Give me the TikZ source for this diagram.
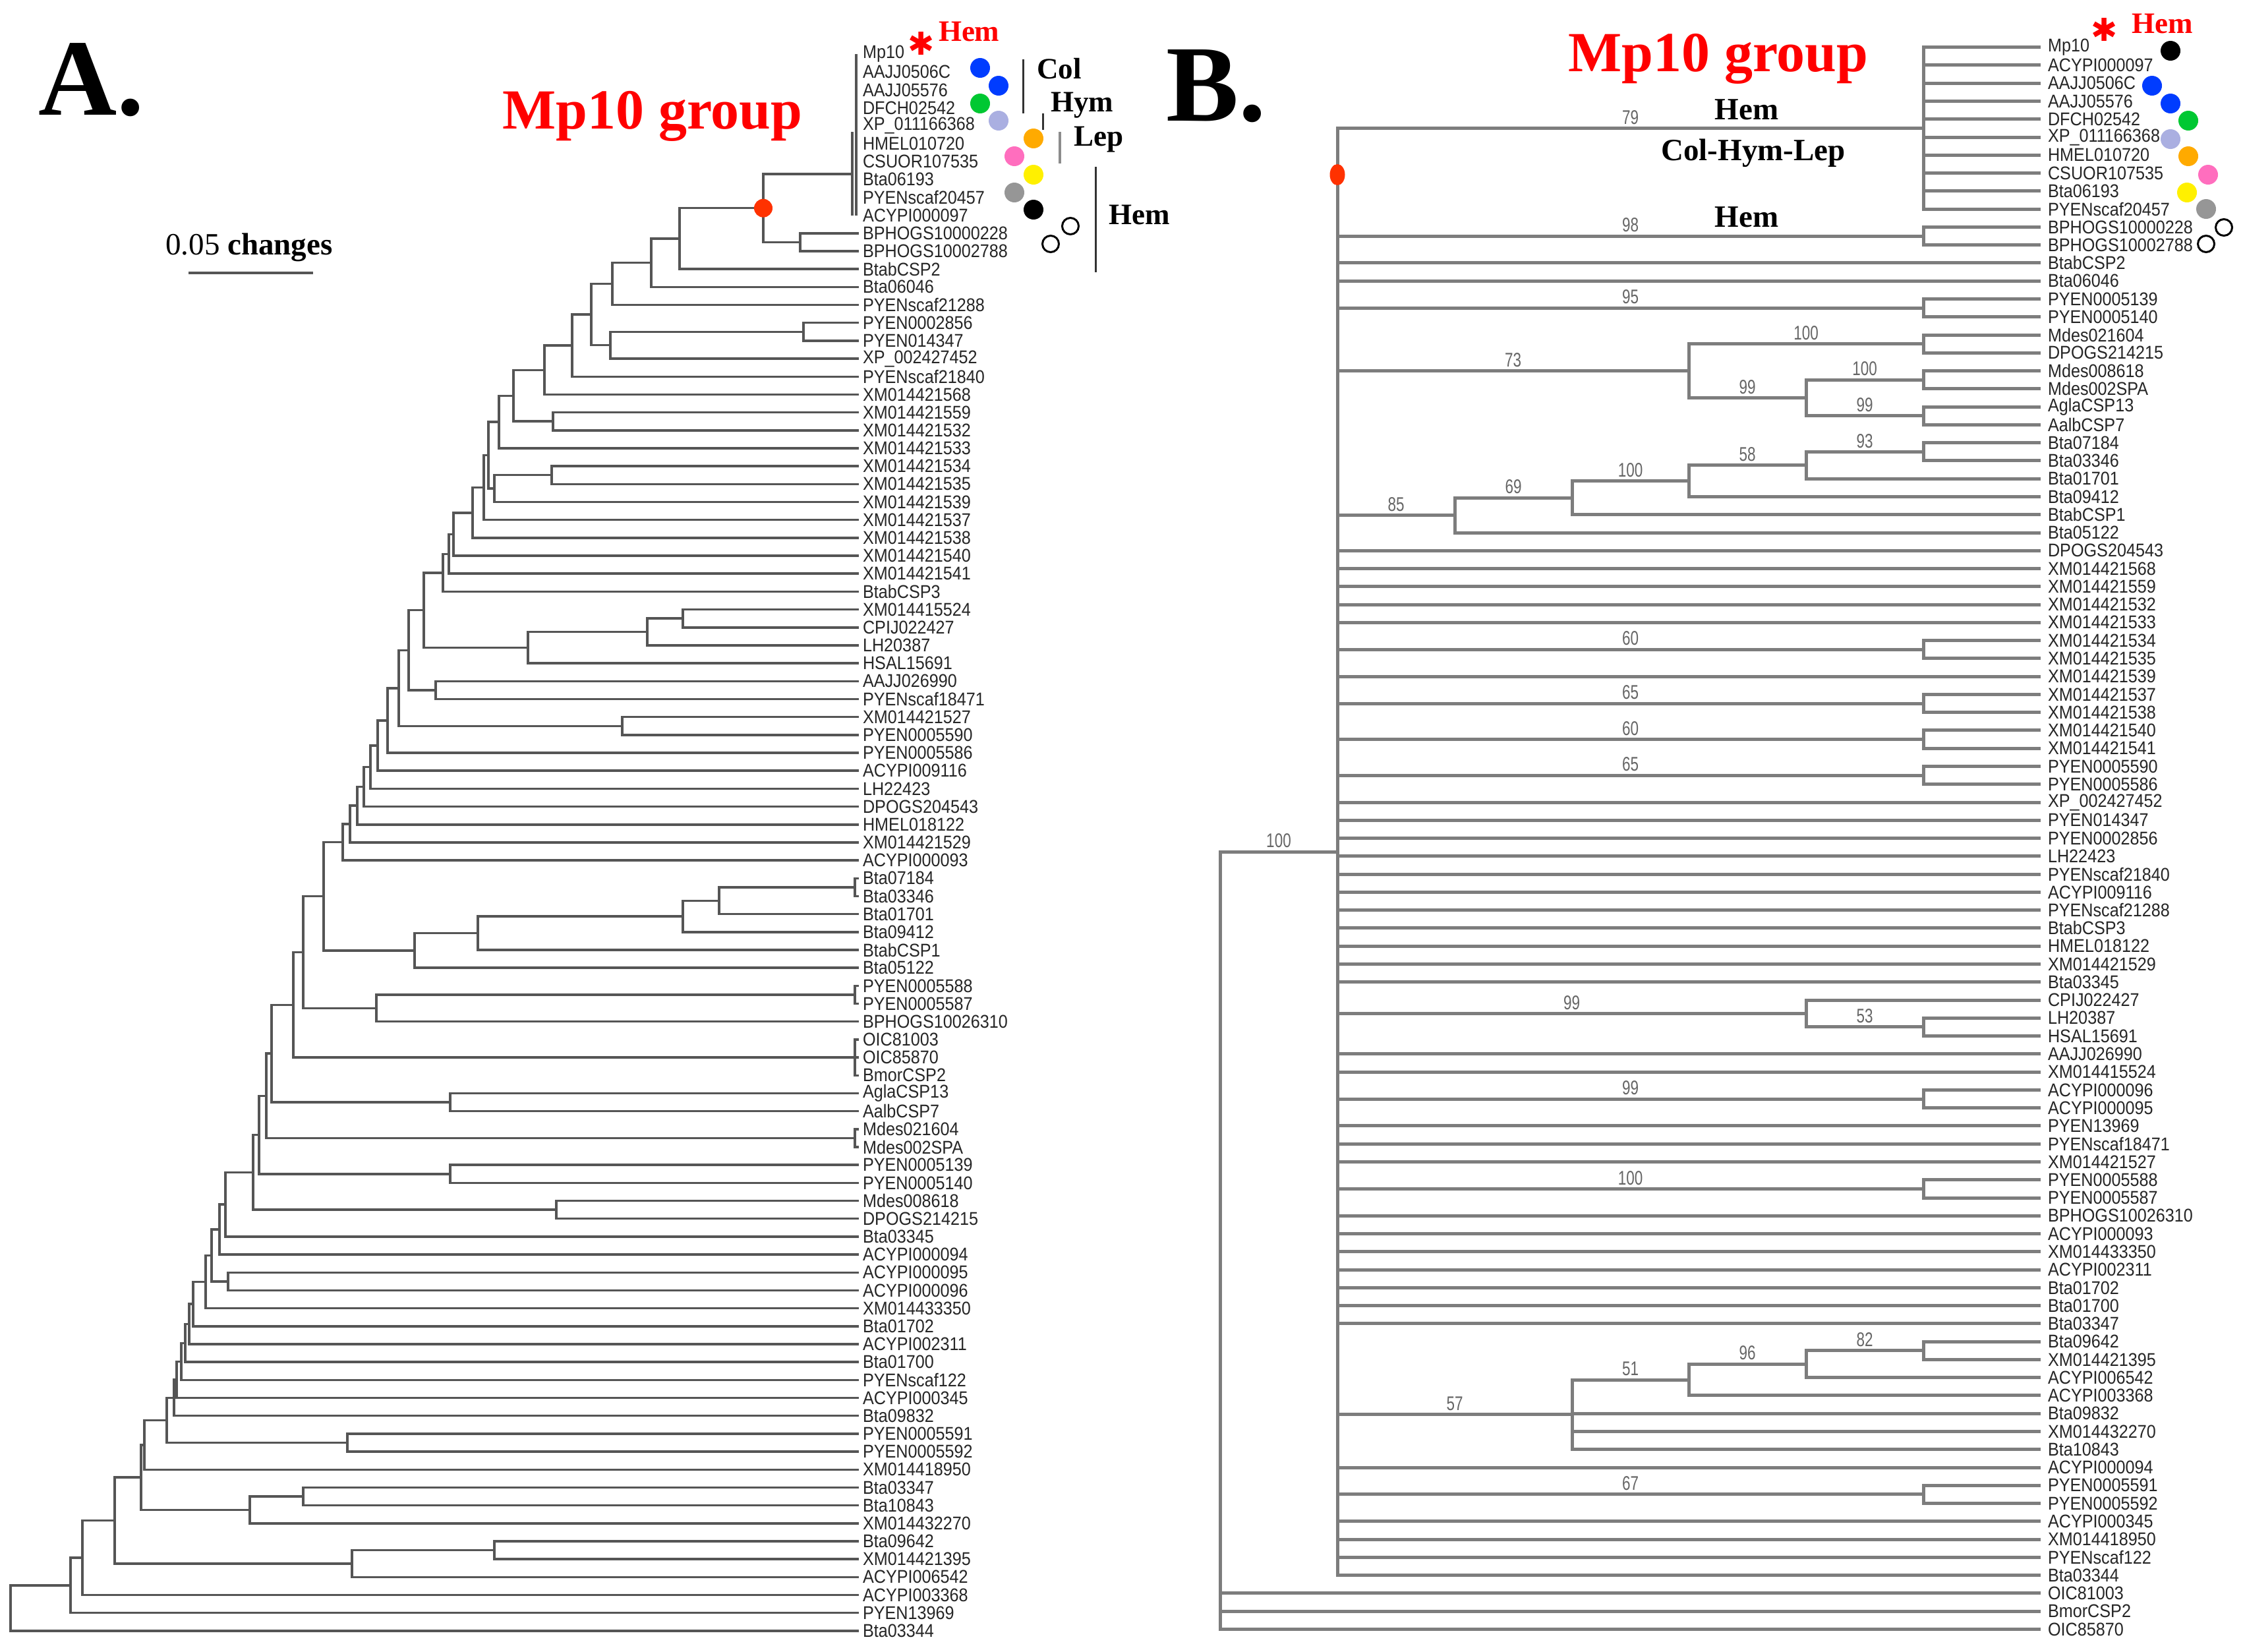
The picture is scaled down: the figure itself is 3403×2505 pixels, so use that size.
\documentclass[tikz,border=0pt]{standalone}
\usepackage{fontspec}
\setmainfont{Liberation Serif}
\newfontfamily\leaffont[FakeStretch=0.9]{Liberation Sans}
\newfontfamily\supfont[FakeStretch=0.75]{Liberation Sans}
\newfontfamily\symfont{DejaVu Sans}
\usetikzlibrary{calc,shapes.geometric}
\definecolor{cblue}{RGB}{0,60,255}
\definecolor{cgreen}{RGB}{0,200,50}
\definecolor{clav}{RGB}{170,175,225}
\definecolor{corange}{RGB}{255,170,0}
\definecolor{cpink}{RGB}{255,110,190}
\definecolor{cyellow}{RGB}{255,240,0}
\definecolor{cgray}{RGB}{150,150,150}
\definecolor{cred}{RGB}{255,0,0}
\definecolor{cdot}{RGB}{255,50,0}
\definecolor{brBcol}{RGB}{125,125,125}
\definecolor{brAcol}{RGB}{85,85,85}
\newcommand\trnode[4]{%
  \path let \p1=(#3), \p2=(#4) in ({#2*0.1pt},{(\y1+\y2)*0.5}) coordinate (#1);
  \draw[br] (#3) -- (#1 |- #3) -- (#1 |- #4) -- (#4);}
\newcommand\trmid[2]{\draw[br] (#1 |- #2) -- (#2);}
\newcommand\trlab[3]{\path (#1 |- #2) -- (#2) node[sup, midway, above] {#3};}
\newcommand\redast{\symbol{"2731}}
\begin{document}
\begin{tikzpicture}[x=0.1pt,y=-0.1pt,
  brA/.style={draw=brAcol, line width=0.35pt},
  brB/.style={draw=brBcol, line width=0.5pt},
  leaf/.style={anchor=west, inner sep=0pt, text=black!85, font=\leaffont\fontsize{2.8pt}{3pt}\selectfont},
  sup/.style={inner sep=0.4pt, text=black!60, font=\supfont\fontsize{3pt}{3pt}\selectfont},
  lab/.style={inner sep=0pt, font=\bfseries\fontsize{4.5pt}{5pt}\selectfont},
  redlab/.style={inner sep=0pt, text=cred, font=\bfseries\fontsize{4.5pt}{5pt}\selectfont},
  ast/.style={inner sep=0pt, anchor=center, text=cred, font=\symfont\fontsize{4.8pt}{5pt}\selectfont},
  big/.style={inner sep=0pt, anchor=base, font=\bfseries\fontsize{16.5pt}{18pt}\selectfont},
  grp/.style={inner sep=0pt, anchor=base, text=cred, font=\bfseries\fontsize{8.6pt}{9pt}\selectfont},
  dot/.style={circle, inner sep=0pt, minimum size=3pt},
  odot/.style={circle, inner sep=0pt, minimum size=2.5pt, draw=black, line width=0.3pt},
  bar/.style={draw=black!80, line width=0.3pt}]
\useasboundingbox (0,0) rectangle (3403,2505);
\fill[white] (0,0) rectangle (3403,2505);

% ---------------- Panel A ----------------
\foreach \n [count=\i] in {Mp10,AAJJ0506C,AAJJ05576,DFCH02542,XP\_011166368,HMEL010720,CSUOR107535,Bta06193,PYENscaf20457,ACYPI000097,
BPHOGS10000228,BPHOGS10002788,BtabCSP2,Bta06046,PYENscaf21288,PYEN0002856,PYEN014347,XP\_002427452,PYENscaf21840,XM014421568,
XM014421559,XM014421532,XM014421533,XM014421534,XM014421535,XM014421539,XM014421537,XM014421538,XM014421540,XM014421541,
BtabCSP3,XM014415524,CPIJ022427,LH20387,HSAL15691,AAJJ026990,PYENscaf18471,XM014421527,PYEN0005590,PYEN0005586,
ACYPI009116,LH22423,DPOGS204543,HMEL018122,XM014421529,ACYPI000093,Bta07184,Bta03346,Bta01701,Bta09412,
BtabCSP1,Bta05122,PYEN0005588,PYEN0005587,BPHOGS10026310,OIC81003,OIC85870,BmorCSP2,AglaCSP13,AalbCSP7,
Mdes021604,Mdes002SPA,PYEN0005139,PYEN0005140,Mdes008618,DPOGS214215,Bta03345,ACYPI000094,ACYPI000095,ACYPI000096,
XM014433350,Bta01702,ACYPI002311,Bta01700,PYENscaf122,ACYPI000345,Bta09832,PYEN0005591,PYEN0005592,XM014418950,
Bta03347,Bta10843,XM014432270,Bta09642,XM014421395,ACYPI006542,ACYPI003368,PYEN13969,Bta03344}{
  \coordinate (LA\i) at (1303,{82+(\i-1)*27.18});
  \node[leaf] (TA\i) at ([xshift=0.4pt]LA\i) {\n};
}
\begin{scope}[br/.style={brA}]
\coordinate (AM) at (1293,264);
\coordinate (AMt) at (1293,200);
\coordinate (AMb) at (1293,327);
\draw[br] (AMt) -- (AMb);
\draw[br] ([xshift=-0.4pt]LA1) -- ([xshift=-0.4pt]LA10);
\trnode{AP11}{1214}{LA11}{LA12}
\trnode{Aa1}{1158}{AM}{AP11}
\trnode{Aa3}{1031}{Aa1}{LA13}
\trnode{Aa4}{988}{Aa3}{LA14}
\trnode{Aa5}{929}{Aa4}{LA15}
\trnode{Ab2}{1219}{LA16}{LA17}
\trnode{Ab1}{926}{Ab2}{LA18}
\trnode{Aa6}{897}{Aa5}{Ab1}
\trnode{Aa7}{868}{Aa6}{LA19}
\trnode{Aa8}{826}{Aa7}{LA20}
\trnode{Ab3}{839}{LA21}{LA22}
\trnode{Aa9}{779}{Aa8}{Ab3}
\trnode{Aa10}{757}{Aa9}{LA23}
\trnode{Ab5}{837}{LA24}{LA25}
\trnode{Ab4}{750}{Ab5}{LA26}
\trnode{Aa11}{741}{Aa10}{Ab4}
\trnode{Aa12}{734}{Aa11}{LA27}
\trnode{Aa13}{717}{Aa12}{LA28}
\trnode{Aa14}{688}{Aa13}{LA29}
\trnode{Aa15}{681}{Aa14}{LA30}
\trnode{Aa16}{672}{Aa15}{LA31}
\trnode{Ac3}{1036}{LA32}{LA33}
\trnode{Ac2}{982}{Ac3}{LA34}
\trnode{Ac1}{801}{Ac2}{LA35}
\trnode{Aa17}{643}{Aa16}{Ac1}
\trnode{Ac4}{661}{LA36}{LA37}
\trnode{Aa18}{620}{Aa17}{Ac4}
\trnode{Ac5}{944}{LA38}{LA39}
\trnode{Aa19}{605}{Aa18}{Ac5}
\trnode{Aa20}{588}{Aa19}{LA40}
\trnode{Aa21}{573}{Aa20}{LA41}
\trnode{Aa22}{562}{Aa21}{LA42}
\trnode{Aa23}{552}{Aa22}{LA43}
\trnode{Aa24}{542}{Aa23}{LA44}
\trnode{Aa25}{531}{Aa24}{LA45}
\trnode{Aa26}{520}{Aa25}{LA46}
\trnode{APq}{1297}{LA47}{LA48}
\trnode{Ad4}{1091}{APq}{LA49}
\trnode{Ad3}{1036}{Ad4}{LA50}
\trnode{Ad2}{725}{Ad3}{LA51}
\trnode{Ad1}{629}{Ad2}{LA52}
\trnode{Aa27}{491}{Aa26}{Ad1}
\trnode{Ae2}{1297}{LA53}{LA54}
\trnode{Ae1}{571}{Ae2}{LA55}
\trnode{Aa28}{460}{Aa27}{Ae1}
\trnode{Af}{1297}{LA56}{LA58}
\trmid{Af}{LA57}
\trnode{Aa29}{445}{Aa28}{Af}
\trnode{Ag}{683}{LA59}{LA60}
\trnode{Aa30}{412}{Aa29}{Ag}
\trnode{Ah0}{1297}{LA61}{LA62}
\trnode{Aa31}{404}{Aa30}{Ah0}
\trnode{Ah}{683}{LA63}{LA64}
\trnode{Aa32}{393}{Aa31}{Ah}
\trnode{Ai}{844}{LA65}{LA66}
\trnode{Aa33}{384}{Aa32}{Ai}
\trnode{Aa34}{342}{Aa33}{LA67}
\trnode{Aa35}{333}{Aa34}{LA68}
\trnode{Aj}{346}{LA69}{LA70}
\trnode{Aa36}{321}{Aa35}{Aj}
\trnode{Aa37}{312}{Aa36}{LA71}
\trnode{Aa38}{293}{Aa37}{LA72}
\trnode{Aa39}{287}{Aa38}{LA73}
\trnode{Aa40}{281}{Aa39}{LA74}
\trnode{Aa41}{275}{Aa40}{LA75}
\trnode{Aa42}{268}{Aa41}{LA76}
\trnode{Aa43}{264}{Aa42}{LA77}
\trnode{Ak}{527}{LA78}{LA79}
\trnode{Aa44}{253}{Aa43}{Ak}
\trnode{Aa45}{219}{Aa44}{LA80}
\trnode{Am}{460}{LA81}{LA82}
\trnode{Al}{379}{Am}{LA83}
\trnode{Aa46}{214}{Aa45}{Al}
\trnode{Ao}{750}{LA84}{LA85}
\trnode{An}{534}{Ao}{LA86}
\trnode{Aa47}{174}{Aa46}{An}
\trnode{Aa48}{125}{Aa47}{LA87}
\trnode{Aa49}{107}{Aa48}{LA88}
\trnode{Aroot}{16}{Aa49}{LA89}
\end{scope}
\node[dot, fill=cdot, minimum size=2.8pt] (redA) at (Aa1) {};

% scale bar
\coordinate (sb1) at (286,414);
\coordinate (sb2) at (475,414);
\draw[brA] (sb1) -- (sb2);
\node[inner sep=0pt, anchor=base, font=\fontsize{4.7pt}{5pt}\selectfont] (sbt) at (378,386) {0.05 \textbf{changes}};

% labels A
\node[big] (labA) at (139,174) {A.};
\node[grp] (grpA) at (990,195) {Mp10 group};
\node[ast] (astA) at (1398,66) {\redast};
\node[redlab, anchor=base west] (hemA) at (1422,62) {Hem};
\node[dot, fill=cblue] (dA1) at (1487,103) {};
\node[dot, fill=cblue] (dA2) at (1515,130) {};
\node[dot, fill=cgreen] (dA3) at (1487,157) {};
\node[dot, fill=clav] (dA4) at (1515,183) {};
\node[dot, fill=corange] (dA5) at (1568,210) {};
\node[dot, fill=cpink] (dA6) at (1539,237) {};
\node[dot, fill=cyellow] (dA7) at (1568,265) {};
\node[dot, fill=cgray] (dA8) at (1539,292) {};
\node[dot, fill=black] (dA9) at (1568,318) {};
\node[odot] (dA10) at (1624,343) {};
\node[odot] (dA11) at (1594,370) {};
\coordinate (colT) at (1552,90); \coordinate (colB) at (1552,172);
\coordinate (hymT) at (1582,172); \coordinate (hymB) at (1582,197);
\coordinate (lepT) at (1608,200); \coordinate (lepB) at (1608,248);
\coordinate (hemT) at (1662,253); \coordinate (hemB) at (1662,413);
\draw[bar] (colT) -- (colB);
\draw[bar] (hymT) -- (hymB);
\draw[bar, draw=black!45, line width=0.45pt] (lepT) -- (lepB);
\draw[bar] (hemT) -- (hemB);
\node[lab, anchor=base west] (tCol) at (1571,119) {Col};
\node[lab, anchor=base west] (tHym) at (1592,169) {Hym};
\node[lab, anchor=base west] (tLep) at (1627,221) {Lep};
\node[lab, anchor=base west] (tHemA) at (1680,340) {Hem};

% ---------------- Panel B ----------------
\foreach \n [count=\i] in {Mp10,ACYPI000097,AAJJ0506C,AAJJ05576,DFCH02542,XP\_011166368,HMEL010720,CSUOR107535,Bta06193,PYENscaf20457,
BPHOGS10000228,BPHOGS10002788,BtabCSP2,Bta06046,PYEN0005139,PYEN0005140,Mdes021604,DPOGS214215,Mdes008618,Mdes002SPA,
AglaCSP13,AalbCSP7,Bta07184,Bta03346,Bta01701,Bta09412,BtabCSP1,Bta05122,DPOGS204543,XM014421568,
XM014421559,XM014421532,XM014421533,XM014421534,XM014421535,XM014421539,XM014421537,XM014421538,XM014421540,XM014421541,
PYEN0005590,PYEN0005586,XP\_002427452,PYEN014347,PYEN0002856,LH22423,PYENscaf21840,ACYPI009116,PYENscaf21288,BtabCSP3,
HMEL018122,XM014421529,Bta03345,CPIJ022427,LH20387,HSAL15691,AAJJ026990,XM014415524,ACYPI000096,ACYPI000095,
PYEN13969,PYENscaf18471,XM014421527,PYEN0005588,PYEN0005587,BPHOGS10026310,ACYPI000093,XM014433350,ACYPI002311,Bta01702,
Bta01700,Bta03347,Bta09642,XM014421395,ACYPI006542,ACYPI003368,Bta09832,XM014432270,Bta10843,ACYPI000094,
PYEN0005591,PYEN0005592,ACYPI000345,XM014418950,PYENscaf122,Bta03344,OIC81003,BmorCSP2,OIC85870}{
  \coordinate (LB\i) at (3096,{71.7+(\i-1)*27.27});
  \node[leaf] (TB\i) at ([xshift=0.9pt]LB\i) {\n};
}
\begin{scope}[br/.style={brB}]
\trnode{nB79}{2918}{LB1}{LB10}
\foreach \c in {2,...,9}{\trmid{nB79}{LB\c}}
\trnode{nB98}{2918}{LB11}{LB12}
\trnode{nB95}{2918}{LB15}{LB16}
\trnode{nB100a}{2918}{LB17}{LB18}
\trnode{nB100b}{2918}{LB19}{LB20}
\trnode{nB99b}{2918}{LB21}{LB22}
\trnode{nB99a}{2740}{nB100b}{nB99b}
\trnode{nB73}{2562}{nB100a}{nB99a}
\trnode{nB93}{2918}{LB23}{LB24}
\trnode{nB58}{2740}{nB93}{LB25}
\trnode{nB100c}{2562}{nB58}{LB26}
\trnode{nB69}{2385}{nB100c}{LB27}
\trnode{nB85}{2207}{nB69}{LB28}
\trnode{nB60a}{2918}{LB34}{LB35}
\trnode{nB65a}{2918}{LB37}{LB38}
\trnode{nB60b}{2918}{LB39}{LB40}
\trnode{nB65b}{2918}{LB41}{LB42}
\trnode{nB53}{2918}{LB55}{LB56}
\trnode{nB99c}{2740}{LB54}{nB53}
\trnode{nB99d}{2918}{LB59}{LB60}
\trnode{nB100d}{2918}{LB64}{LB65}
\trnode{nB82}{2918}{LB73}{LB74}
\trnode{nB96}{2740}{nB82}{LB75}
\trnode{nB51}{2562}{nB96}{LB76}
\trnode{nB57}{2385}{nB51}{LB79}
\trmid{nB57}{LB77}
\trmid{nB57}{LB78}
\trnode{nB67}{2918}{LB81}{LB82}
\trnode{Bbig}{2029}{nB79}{LB86}
\foreach \c in {nB98,LB13,LB14,nB95,nB73,nB85,LB29,LB30,LB31,LB32,LB33,nB60a,LB36,nB65a,nB60b,nB65b,
  LB43,LB44,LB45,LB46,LB47,LB48,LB49,LB50,LB51,LB52,LB53,nB99c,LB57,LB58,nB99d,LB61,LB62,LB63,nB100d,
  LB66,LB67,LB68,LB69,LB70,LB71,LB72,nB57,LB80,nB67,LB83,LB84,LB85}{\trmid{Bbig}{\c}}
\trnode{Broot}{1851}{Bbig}{LB89}
\trmid{Broot}{LB87}
\trmid{Broot}{LB88}
\end{scope}
% support values
\trlab{Bbig}{nB79}{79}
\trlab{Bbig}{nB98}{98}
\trlab{Bbig}{nB95}{95}
\trlab{Bbig}{nB73}{73}
\trlab{nB73}{nB100a}{100}
\trlab{nB73}{nB99a}{99}
\trlab{nB99a}{nB100b}{100}
\trlab{nB99a}{nB99b}{99}
\trlab{Bbig}{nB85}{85}
\trlab{nB85}{nB69}{69}
\trlab{nB69}{nB100c}{100}
\trlab{nB100c}{nB58}{58}
\trlab{nB58}{nB93}{93}
\trlab{Bbig}{nB60a}{60}
\trlab{Bbig}{nB65a}{65}
\trlab{Bbig}{nB60b}{60}
\trlab{Bbig}{nB65b}{65}
\trlab{Broot}{Bbig}{100}
\trlab{Bbig}{nB99c}{99}
\trlab{nB99c}{nB53}{53}
\trlab{Bbig}{nB99d}{99}
\trlab{Bbig}{nB100d}{100}
\trlab{Bbig}{nB57}{57}
\trlab{nB57}{nB51}{51}
\trlab{nB51}{nB96}{96}
\trlab{nB96}{nB82}{82}
\trlab{Bbig}{nB67}{67}

\coordinate (redBpos) at (2029,265);
\node[ellipse, fill=cdot, inner sep=0pt, minimum width=2.3pt, minimum height=3.2pt] (redB) at (redBpos) {};

\node[big] (labB) at (1845,183) {B.};
\node[grp] (grpB) at (2607,108) {Mp10 group};
\node[lab, anchor=center, font=\bfseries\fontsize{4.7pt}{5pt}\selectfont] (hemB1) at (2650,166) {Hem};
\node[lab, anchor=center, font=\bfseries\fontsize{4.7pt}{5pt}\selectfont] (chl) at (2660,232) {Col-Hym-Lep};
\node[lab, anchor=center, font=\bfseries\fontsize{4.7pt}{5pt}\selectfont] (hemB2) at (2650,329) {Hem};
\node[ast] (astB) at (3193,45) {\redast};
\node[redlab, anchor=base west] (hemBr) at (3232,50) {Hem};
\node[dot, fill=black] (dB1) at (3293,77) {};
\node[dot, fill=cblue] (dB2) at (3265,130) {};
\node[dot, fill=cblue] (dB3) at (3293,157) {};
\node[dot, fill=cgreen] (dB4) at (3320,183) {};
\node[dot, fill=clav] (dB5) at (3293,211) {};
\node[dot, fill=corange] (dB6) at (3320,237) {};
\node[dot, fill=cpink] (dB7) at (3350,265) {};
\node[dot, fill=cyellow] (dB8) at (3318,292) {};
\node[dot, fill=cgray] (dB9) at (3347,317) {};
\node[odot] (dB10) at (3374,345) {};
\node[odot] (dB11) at (3347,370) {};
\end{tikzpicture}
\end{document}
